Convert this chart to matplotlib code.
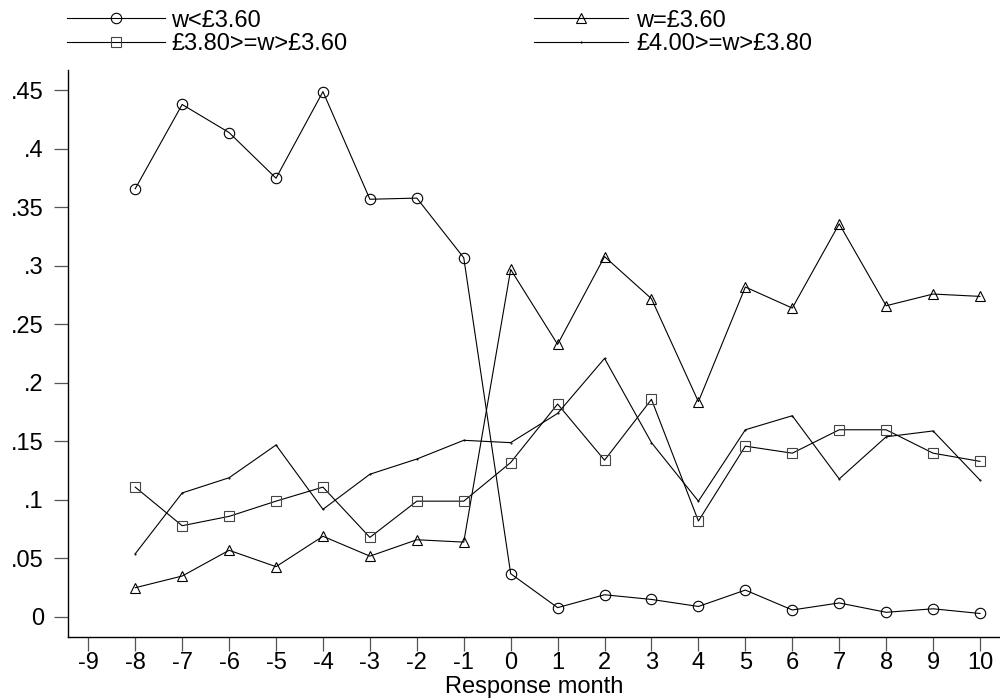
import matplotlib
matplotlib.use("Agg")
import matplotlib.pyplot as plt
import numpy as np

plt.rcParams['font.family'] = ['Liberation Sans', 'DejaVu Sans']
plt.rcParams['axes.unicode_minus'] = False

months = list(range(-8, 11))

# share of workers in each wage band, by response month
below_360 = [0.366, 0.438, 0.414, 0.375, 0.449, 0.357, 0.358, 0.307,
             0.037, 0.008, 0.019, 0.015, 0.009, 0.023, 0.006, 0.012, 0.004, 0.007, 0.003]
at_360 = [0.025, 0.035, 0.057, 0.043, 0.069, 0.052, 0.066, 0.064,
          0.297, 0.233, 0.308, 0.272, 0.184, 0.282, 0.264, 0.336, 0.266, 0.276, 0.274]
band_360_380 = [0.111, 0.078, 0.086, 0.099, 0.111, 0.068, 0.099, 0.099,
                0.132, 0.182, 0.134, 0.186, 0.082, 0.146, 0.140, 0.160, 0.160, 0.140, 0.133]
band_380_400 = [0.054, 0.106, 0.119, 0.147, 0.092, 0.122, 0.135, 0.151,
                0.149, 0.174, 0.221, 0.149, 0.099, 0.160, 0.172, 0.118, 0.154, 0.159, 0.117]

labels = ["w<£3.60", "£3.80>=w>£3.60", "w=£3.60", "£4.00>=w>£3.80"]
xticks = list(range(-9, 11))
yticks = [0, .05, .1, .15, .2, .25, .3, .35, .4, .45]
ytick_labels = ["0", ".05", ".1", ".15", ".2", ".25", ".3", ".35", ".4", ".45"]

fig = plt.figure(figsize=(10, 6.99), dpi=100)
ax = fig.add_axes([0.0675, 0.0887, 0.9325, 0.8112])

lw = 0.8
ms = 7.5
l1, = ax.plot(months, below_360, "k-", lw=lw, marker="o", ms=ms, mfc="none", mec="k", mew=0.8)
l3, = ax.plot(months, at_360, "k-", lw=lw, marker="^", ms=ms, mfc="none", mec="k", mew=0.8)
l2, = ax.plot(months, band_360_380, "k-", lw=lw, marker="s", ms=7.2, mfc="none", mec="#444444", mew=0.8)
l4, = ax.plot(months, band_380_400, "k-", lw=lw, marker=".", ms=1)

ax.set_xlim(-9.443, 10.426)
ax.set_ylim(-0.0171, 0.4675)
ax.set_xticks(xticks)
ax.set_yticks(yticks)
ax.set_yticklabels(ytick_labels)

for s in ["top", "right"]:
    ax.spines[s].set_visible(False)
for s in ["left", "bottom"]:
    ax.spines[s].set_linewidth(1.0)

ax.tick_params(axis="both", direction="out", length=10, width=0.9, color="#555555", labelsize=17)
ax.tick_params(axis="x", pad=1)
ax.tick_params(axis="y", pad=7)
ax.set_xlabel("Response month", fontsize=17, labelpad=1)

leg1 = fig.legend([l1, l2], labels[:2], loc="upper left", bbox_to_anchor=(0.0625, 0.993),
                  frameon=False, fontsize=17, handlelength=4.15, handletextpad=0.25,
                  borderpad=0.2, labelspacing=0.05, borderaxespad=0)
leg2 = fig.legend([l3, l4], labels[2:], loc="upper left", bbox_to_anchor=(0.529, 0.993),
                  frameon=False, fontsize=17, handlelength=4.0, handletextpad=0.35,
                  borderpad=0.2, labelspacing=0.05, borderaxespad=0)

fig.savefig("out.png", dpi=100)
